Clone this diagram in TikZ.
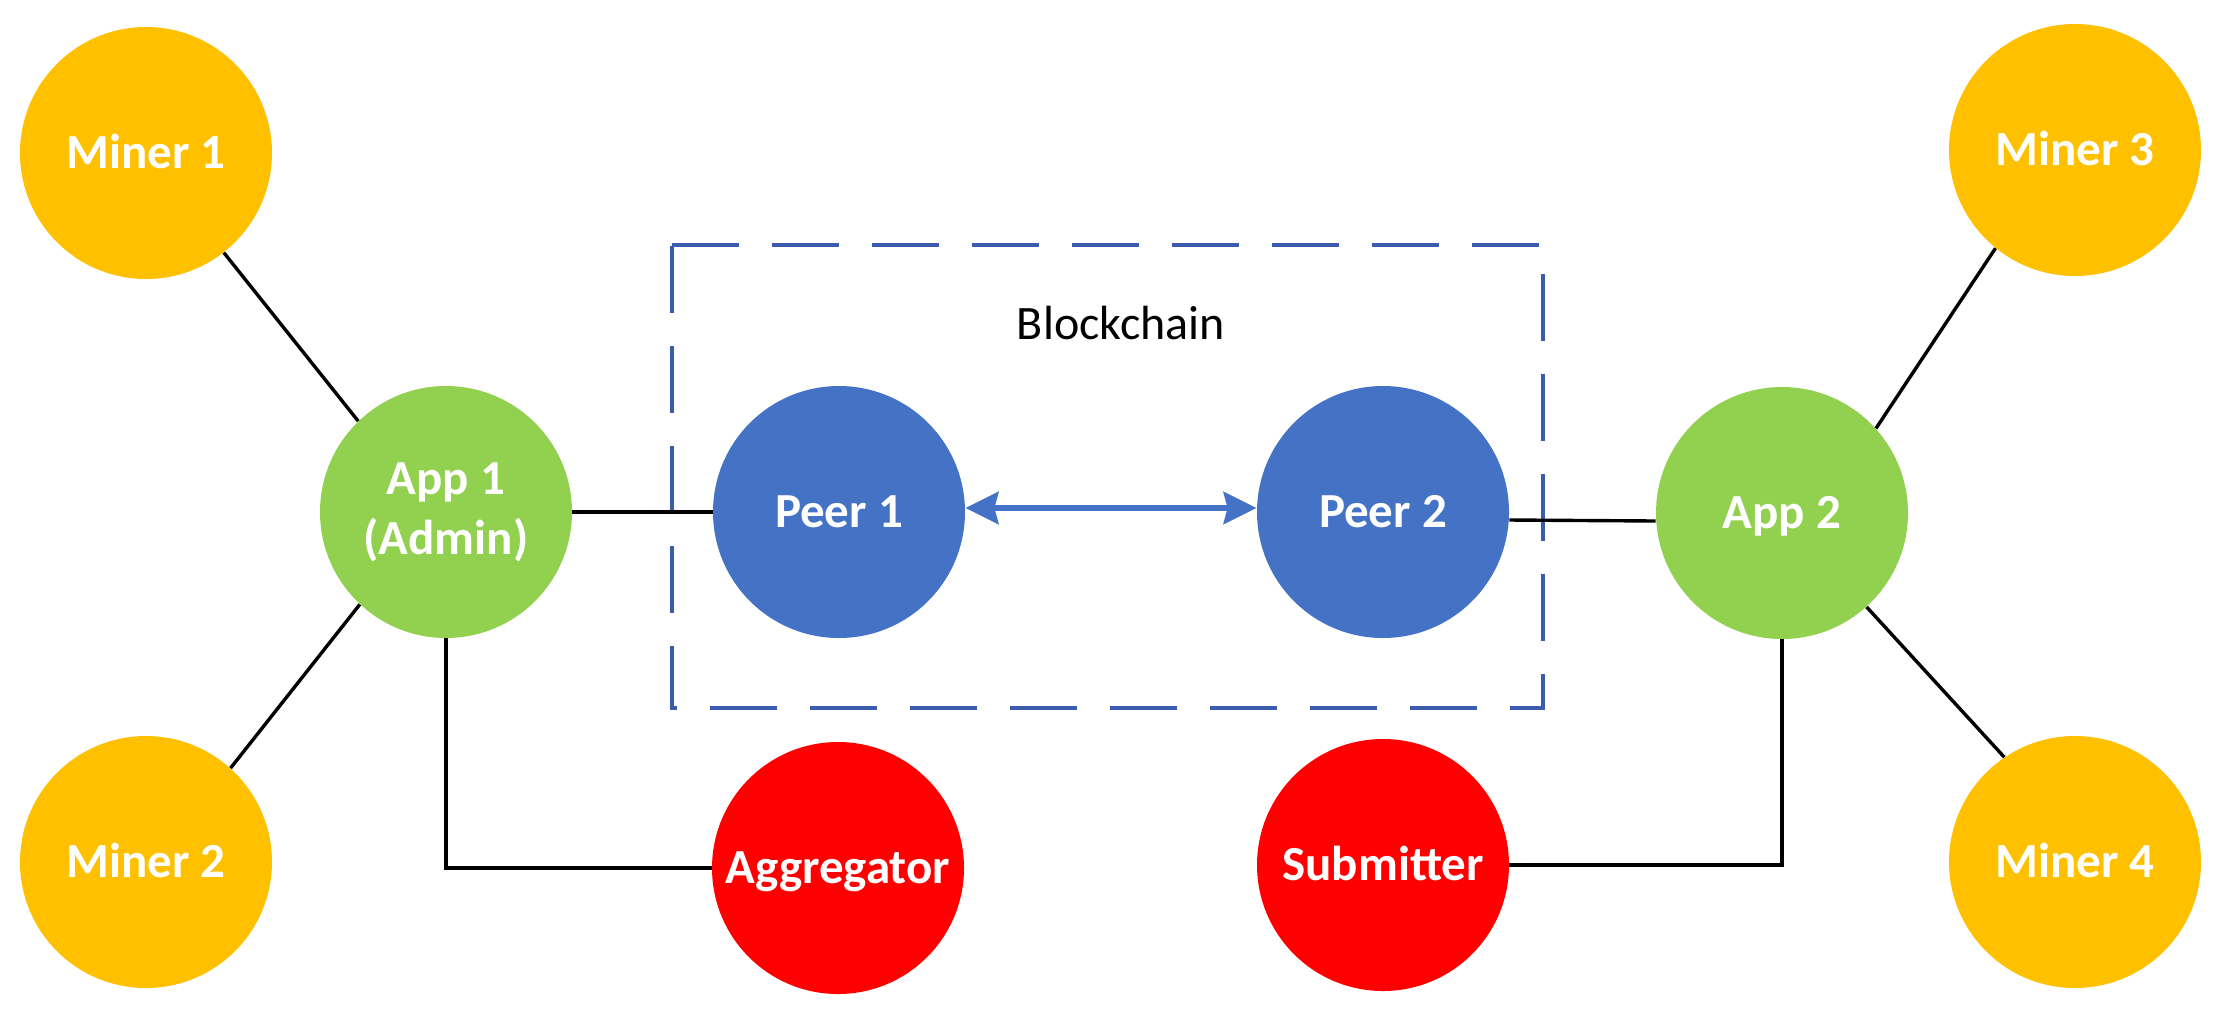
\documentclass[tikz,border=0pt]{standalone}
\usepackage{fontspec}
\setmainfont{Carlito}
\usepackage{tikz}
\usetikzlibrary{arrows.meta}
\definecolor{minercol}{HTML}{FFC000}
\definecolor{appcol}{HTML}{92D050}
\definecolor{peercol}{HTML}{4472C4}
\definecolor{rolecol}{HTML}{FF0000}
\definecolor{boxcol}{HTML}{3B5CAD}

\begin{document}
\begin{tikzpicture}[x=0.5pt, y=-0.5pt, main node/.style={circle, minimum size=126pt, inner sep=0pt, text=white, font=\fontsize{24.5pt}{30pt}\selectfont\bfseries, align=center}, one line/.style={text height=22pt, text depth=6.3pt}, miner/.style={main node, one line, fill=minercol}, app/.style={main node, fill=appcol}, peer/.style={main node, one line, fill=peercol}, role/.style={main node, one line, fill=rolecol}, link/.style={line width=1.7pt}]
\useasboundingbox (0,0) rectangle (2225,1019);
% blockchain frame
\draw[boxcol, line width=2pt, dash pattern=on 33.5pt off 16.5pt] (672,245) -- (1543,245) -- (1543,708) -- (672,708) -- cycle;
\node[font=\fontsize{24pt}{29pt}\selectfont] (bc) at (1121,323) {Blockchain};
\node[miner] (m1) at (146,153) {Miner 1};
\node[miner] (m2) at (146,862) {Miner 2};
\node[miner] (m3) at (2075,150) {Miner 3};
\node[miner] (m4) at (2075,862) {Miner 4};
\node[app] (app1) at (446,512) {App 1\\(Admin)};
\node[app, one line] (app2) at (1782,513) {App 2};
\node[peer] (p1) at (839,512) {Peer 1};
\node[peer] (p2) at (1383,512) {Peer 2};
\node[role] (agg) at (838,868) {Aggregator};
\node[role] (sub) at (1383,865) {Submitter};
\path[link]
(m1.308) edge (app1.134)
(m2.48) edge (app1.227)
(m3.231) edge (app2.42)
(m4.124) edge (app2.312)
(app1) edge (p1);
\draw[link] ([yshift=-4pt]p2.east) -- ([yshift=-4pt]app2.west);
\draw[link] (app1) |- (agg);
\draw[link] (app2) |- (sub);
\draw[peercol, line width=3pt, {Stealth[length=16.5pt, width=16pt, inset=2pt]}-{Stealth[length=16.5pt, width=16pt, inset=2pt]}] ([yshift=2pt]p1.east) -- ([yshift=2pt]p2.west);
\end{tikzpicture}
\end{document}
